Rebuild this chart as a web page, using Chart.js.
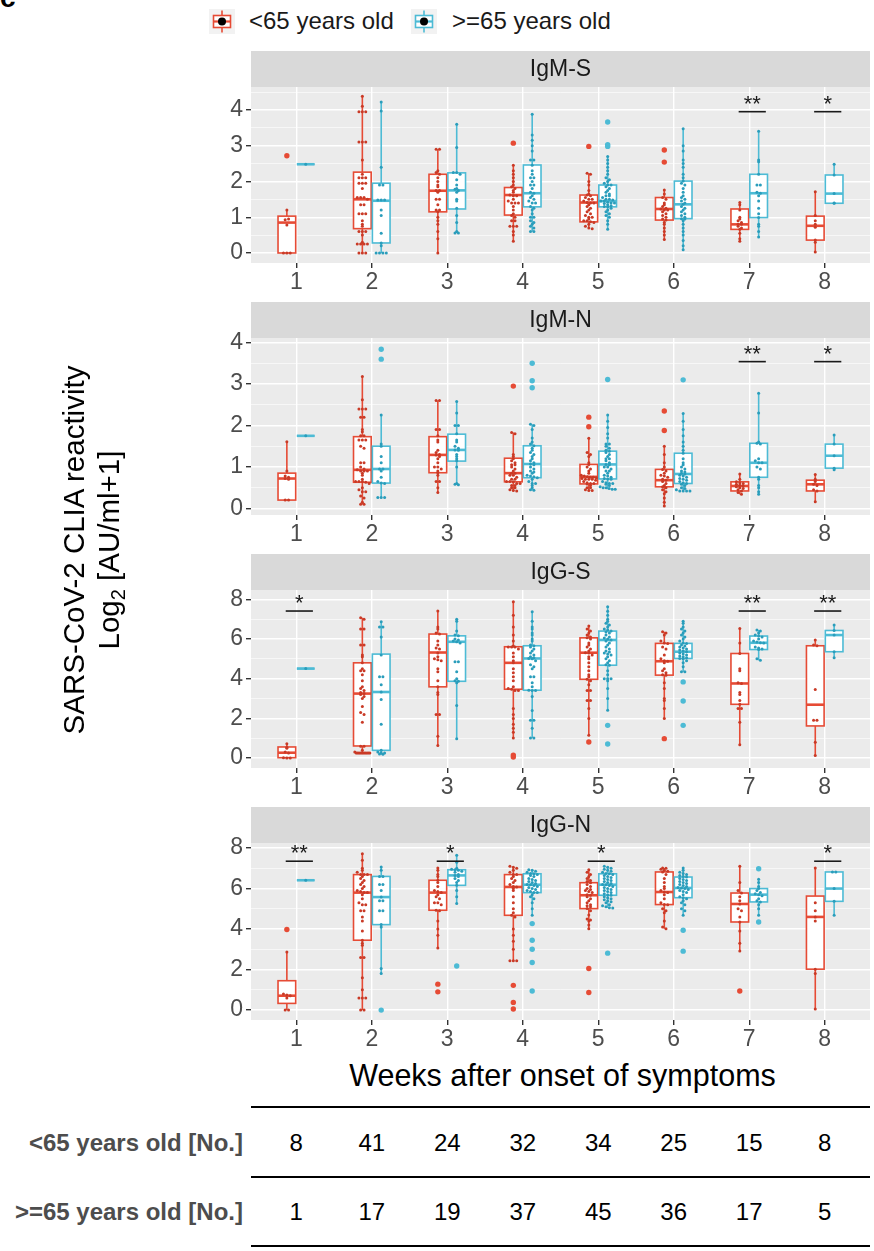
<!DOCTYPE html>
<html><head><meta charset="utf-8">
<script src="https://cdn.jsdelivr.net/npm/chart.js@4.4.0/dist/chart.umd.min.js"></script>
<style>
html,body{margin:0;padding:0;background:#fff;}
#page{position:relative;width:874px;height:1251px;overflow:hidden;font-family:"Liberation Sans",Arial,Helvetica,sans-serif;}
canvas.panel{position:absolute;left:0;}
.abs{position:absolute;white-space:nowrap;}
.hline{position:absolute;height:2px;background:#000;}
</style></head><body><div id="page"></div>
<script>
// ---------------- DATA ----------------
const WEEKS = [1, 2, 3, 4, 5, 6, 7, 8];
const GROUP_LABELS = ['<65 years old', '>=65 years old'];
const TABLE_LABELS = ['<65 years old [No.]', '>=65 years old [No.]'];
const COUNT_YOUNG = [8, 41, 24, 32, 34, 25, 15, 8];
const COUNT_OLD = [1, 17, 19, 37, 45, 36, 17, 5];
const PANEL_TITLES = ['IgM-S', 'IgM-N', 'IgG-S', 'IgG-N'];
const IGM_Y_TICKS = [0, 1, 2, 3, 4];
const IGG_Y_TICKS = [0, 2, 4, 6, 8];
const X_TITLE = 'Weeks after onset of symptoms';

// box stats per week: [lower whisker, q1, median, q3, upper whisker]
// ---- IgM-S ----
const IGMS_YOUNG_BOX = [[0,0,0.85,1.03,1.2],[0,0.68,1.5,2.26,4.38],[0,1.15,1.74,2.2,2.9],[0.33,1.06,1.62,1.83,2.46],[0.68,0.87,1.41,1.62,2.23],[0.38,0.92,1.23,1.55,1.76],[0.33,0.66,0.8,1.23,1.41],[0.03,0.36,0.76,1.03,1.71]];
const IGMS_OLD_BOX = [[2.48,2.48,2.48,2.48,2.48],[0,0.28,1.46,1.95,4.22],[0.56,1.23,1.75,2.24,3.6],[0.6,1.29,1.67,2.46,3.88],[0.66,1.29,1.45,1.9,2.7],[0.09,0.96,1.36,2.01,3.47],[0.45,0.99,1.67,2.2,3.4],[1.39,1.39,1.66,2.18,2.48]];
const IGMS_YOUNG_PTS = [
 [0,0,0,0.78,0.93,0.95,1.2,2.72],
 [4.38,4.1,3.95,3.95,3.95,3.1,3.1,3.1,2.6,2.2,2.1,2.1,2.1,1.95,1.95,1.95,1.8,1.55,1.55,1.55,1.5,1.35,1.35,1.1,1.1,1.1,0.9,0.8,0.75,0.6,0.6,0.6,0.5,0.3,0.25,0.25,0.25,0.25,0,0,0],
 [2.9,2.9,2.3,2.25,2.2,2.1,2.0,1.9,1.85,1.75,1.75,1.7,1.5,1.5,1.35,1.2,1.2,1.15,1.0,0.9,0.8,0.6,0.4,0],
 [3.07,2.45,2.3,2.2,2.1,2.0,1.9,1.85,1.8,1.75,1.7,1.62,1.6,1.6,1.5,1.45,1.4,1.4,1.4,1.3,1.2,1.1,1.05,1.0,0.9,0.9,0.75,0.75,0.75,0.6,0.5,0.33],
 [2.98,2.23,2.2,2.0,1.9,1.75,1.65,1.62,1.6,1.55,1.5,1.5,1.45,1.41,1.4,1.4,1.35,1.3,1.25,1.2,1.15,1.1,1.05,1.0,1.0,0.95,0.9,0.9,0.87,0.85,0.8,0.75,0.7,0.68],
 [2.88,2.54,1.76,1.65,1.55,1.5,1.4,1.35,1.3,1.25,1.23,1.2,1.2,1.15,1.1,1.05,1.0,0.95,0.92,0.85,0.8,0.7,0.6,0.5,0.38],
 [1.41,1.35,1.2,1.0,0.95,0.9,0.85,0.8,0.8,0.75,0.7,0.66,0.55,0.4,0.33],
 [1.71,1.05,0.9,0.8,0.72,0.36,0.3,0.03]];
const IGMS_OLD_PTS = [
 [2.48],
 [4.22,3.97,2.4,1.9,1.9,1.48,1.48,1.48,1.2,1.05,0.55,0.28,0.2,0,0,0,0],
 [3.6,2.95,2.25,2.25,2.2,2.05,1.9,1.8,1.78,1.75,1.7,1.5,1.45,1.25,1.05,0.85,0.6,0.56,0.56],
 [3.88,3.3,3.15,3.0,2.85,2.6,2.6,2.45,2.3,2.2,2.1,2.1,2.0,1.9,1.9,1.8,1.7,1.67,1.6,1.55,1.5,1.45,1.4,1.4,1.3,1.25,1.2,1.1,1.0,1.0,0.9,0.85,0.8,0.75,0.7,0.6,0.6],
 [3.66,3.03,2.98,2.7,2.6,2.5,2.4,2.3,2.2,2.1,2.05,2.0,1.95,1.9,1.9,1.85,1.8,1.75,1.7,1.65,1.6,1.6,1.55,1.5,1.5,1.48,1.45,1.45,1.42,1.4,1.4,1.38,1.35,1.32,1.3,1.29,1.25,1.2,1.15,1.1,1.05,1.0,0.9,0.8,0.66],
 [3.47,3.0,2.85,2.6,2.5,2.4,2.2,2.1,2.01,1.95,1.9,1.8,1.7,1.6,1.55,1.5,1.45,1.4,1.36,1.3,1.25,1.2,1.15,1.1,1.05,1.0,0.96,0.95,0.9,0.8,0.7,0.6,0.5,0.35,0.2,0.09],
 [3.4,2.6,2.55,2.2,1.9,1.9,1.7,1.67,1.6,1.45,1.25,1.1,0.99,0.8,0.75,0.6,0.45],
 [2.48,2.18,1.66,1.4,1.39]];
const IGMS_SIG = [[7, '**'], [8, '*']];
const IGMS_SIG_Y = 3.95;

// ---- IgM-N ----
const IGMN_YOUNG_BOX = [[0.2,0.2,0.72,0.85,1.61],[0.1,0.63,0.93,1.73,3.18],[0.38,0.86,1.29,1.73,2.6],[0.42,0.64,0.85,1.21,1.83],[0.43,0.59,0.76,1.06,1.69],[0.06,0.52,0.68,0.94,1.5],[0.34,0.42,0.54,0.64,0.83],[0.16,0.42,0.58,0.68,0.82]];
const IGMN_OLD_BOX = [[1.75,1.75,1.75,1.75,1.75],[0.26,0.61,0.95,1.5,2.25],[0.57,1.14,1.41,1.79,2.58],[0.44,0.74,1.07,1.51,2.03],[0.46,0.71,1.06,1.38,2.25],[0.42,0.6,0.83,1.33,2.29],[0.34,0.75,1.1,1.57,2.78],[0.93,0.97,1.27,1.55,1.77]];
const IGMN_YOUNG_PTS = [
 [1.61,0.9,0.78,0.75,0.72,0.7,0.2,0.2],
 [3.18,2.62,2.4,2.4,2.4,2.2,2.2,1.9,1.85,1.75,1.75,1.65,1.65,1.65,1.5,1.45,1.1,1.1,1.0,0.95,0.93,0.9,0.9,0.9,0.85,0.8,0.7,0.65,0.65,0.65,0.63,0.6,0.5,0.45,0.4,0.4,0.3,0.25,0.15,0.1,0.1],
 [2.6,2.6,1.9,1.9,1.75,1.65,1.6,1.4,1.35,1.3,1.29,1.25,1.2,1.1,1.0,1.0,0.95,0.9,0.86,0.8,0.65,0.65,0.5,0.38],
 [2.95,1.83,1.8,1.3,1.25,1.2,1.15,1.1,1.05,1.05,1.0,0.95,0.9,0.85,0.85,0.8,0.8,0.75,0.7,0.7,0.65,0.65,0.64,0.6,0.6,0.55,0.55,0.5,0.5,0.45,0.43,0.42],
 [2.2,1.97,1.69,1.35,1.3,1.25,1.1,1.06,1.0,0.95,0.9,0.85,0.8,0.78,0.76,0.75,0.75,0.74,0.72,0.7,0.7,0.7,0.68,0.65,0.62,0.6,0.6,0.59,0.55,0.5,0.5,0.45,0.43,0.43],
 [2.35,1.88,1.5,1.3,1.1,1.0,0.94,0.9,0.85,0.8,0.78,0.75,0.7,0.68,0.65,0.6,0.55,0.52,0.5,0.45,0.4,0.35,0.25,0.15,0.06],
 [0.83,0.7,0.64,0.62,0.6,0.58,0.56,0.54,0.52,0.5,0.48,0.45,0.42,0.38,0.34],
 [0.82,0.7,0.65,0.58,0.55,0.45,0.42,0.16]];
const IGMN_OLD_PTS = [
 [1.75],
 [3.84,3.6,2.25,1.55,1.5,1.25,1.1,0.95,0.95,0.9,0.75,0.65,0.61,0.6,0.26,0.26,0.26],
 [2.58,2.3,2.0,2.0,1.8,1.65,1.6,1.5,1.45,1.41,1.4,1.3,1.25,1.2,1.15,1.0,0.6,0.58,0.57],
 [3.5,3.08,2.91,2.03,2.0,1.9,1.7,1.6,1.55,1.51,1.45,1.4,1.35,1.3,1.25,1.2,1.15,1.1,1.07,1.05,1.0,0.95,0.9,0.88,0.85,0.8,0.78,0.76,0.74,0.7,0.65,0.6,0.6,0.55,0.5,0.45,0.44],
 [3.11,2.25,2.1,1.95,1.8,1.7,1.55,1.55,1.5,1.45,1.4,1.38,1.35,1.3,1.25,1.2,1.2,1.15,1.1,1.06,1.05,1.0,1.0,0.95,0.9,0.9,0.85,0.8,0.78,0.75,0.72,0.71,0.7,0.65,0.62,0.6,0.6,0.58,0.55,0.52,0.5,0.5,0.48,0.46,0.46],
 [3.1,2.29,2.1,1.9,1.75,1.6,1.5,1.4,1.33,1.2,1.1,1.05,1.0,0.95,0.9,0.88,0.85,0.83,0.8,0.78,0.75,0.72,0.7,0.68,0.65,0.62,0.6,0.58,0.55,0.5,0.48,0.45,0.42,0.42,0.42,0.42],
 [2.78,2.3,1.6,1.57,1.55,1.2,1.15,1.1,1.1,1.0,0.95,0.75,0.7,0.55,0.5,0.4,0.34],
 [1.77,1.55,1.27,0.97,0.93]];
const IGMN_SIG = [[7, '**'], [8, '*']];
const IGMN_SIG_Y = 3.54;

// ---- IgG-S ----
const IGGS_YOUNG_BOX = [[0,0.02,0.27,0.56,0.72],[0.25,0.61,3.25,4.8,7.07],[0.64,3.59,5.32,6.25,7.41],[1.01,3.47,4.8,5.61,7.88],[1.15,3.97,5.31,6.06,6.65],[1.99,4.18,4.88,5.78,6.37],[0.67,2.71,3.76,5.27,6.53],[0.13,1.62,2.69,5.66,5.95]];
const IGGS_OLD_BOX = [[4.51,4.51,4.51,4.51,4.51],[0.19,0.39,3.33,5.24,6.87],[0.98,3.87,5.86,6.16,6.99],[1.01,3.42,5.02,5.66,7.38],[2.41,4.68,5.95,6.4,7.63],[4.35,5.02,5.36,5.78,6.9],[4.93,5.47,5.81,6.15,6.45],[5.05,5.36,6.2,6.43,6.7]];
const IGGS_YOUNG_PTS = [
 [0.72,0.55,0.5,0.3,0.25,0.02,0,0],
 [7.07,7.0,6.5,6.5,5.7,5.7,5.2,5.1,4.8,4.5,4.4,4.4,4.2,3.9,3.6,3.5,3.4,3.3,3.25,3.2,3.1,3.0,2.6,2.3,2.2,1.8,0.6,0.6,0.4,0.3,0.25,0.25,0.25,0.25,0.25,0.25,0.25,0.25,0.25,0.25,0.25],
 [7.41,6.6,6.5,6.3,6.25,5.9,5.7,5.55,5.5,5.3,5.1,5.0,4.95,4.9,4.5,4.35,3.9,3.6,3.3,3.2,2.2,2.2,1.1,0.64],
 [7.88,7.2,6.6,6.2,5.9,5.65,5.6,5.6,5.6,5.5,5.3,5.1,4.9,4.8,4.5,4.3,4.1,3.9,3.6,3.5,3.47,3.4,3.4,2.5,2.2,2.0,1.7,1.5,1.3,1.01,0.15,0.05],
 [6.65,6.5,6.4,6.3,6.2,6.1,6.06,6.0,5.8,5.7,5.6,5.5,5.4,5.31,5.3,5.2,5.1,5.0,4.8,4.6,4.4,4.2,4.1,3.97,3.9,3.7,3.4,3.4,2.9,2.9,2.5,2.0,1.15,0.81],
 [6.37,6.3,6.2,5.9,5.8,5.78,5.6,5.5,5.2,5.0,4.9,4.88,4.8,4.5,4.4,4.3,4.2,4.18,3.8,3.5,3.0,2.9,2.5,1.99,0.98],
 [6.53,5.8,5.27,4.5,4.4,3.8,3.76,3.3,3.2,2.9,2.71,2.5,2.5,1.8,0.67],
 [5.95,5.7,5.66,3.45,1.9,1.9,0.8,0.13]];
const IGGS_OLD_PTS = [
 [4.51],
 [6.87,6.6,6.6,6.1,5.2,4.1,4.1,3.7,3.33,2.95,1.7,0.4,0.3,0.25,0.25,0.2,0.19],
 [6.99,6.9,6.4,6.2,6.16,6.0,5.95,5.9,5.86,5.8,4.85,4.85,4.35,4.0,3.9,3.87,3.8,2.65,0.98],
 [7.38,6.9,6.6,6.5,6.3,6.2,6.0,5.9,5.7,5.66,5.6,5.5,5.4,5.3,5.2,5.1,5.05,5.02,5.0,4.9,4.7,4.6,4.5,4.1,4.1,3.8,3.6,3.42,3.4,3.4,3.1,2.4,1.9,1.9,1.5,1.01,1.01],
 [7.63,7.4,7.2,7.0,6.9,6.8,6.7,6.6,6.5,6.45,6.4,6.35,6.3,6.2,6.1,6.05,6.0,5.95,5.9,5.8,5.7,5.6,5.5,5.4,5.35,5.3,5.25,5.2,5.1,5.0,4.9,4.8,4.7,4.68,4.4,4.2,4.0,4.0,4.0,3.9,3.5,3.0,2.41,1.65,0.71],
 [6.9,6.8,6.6,6.5,6.4,6.3,6.2,6.1,6.0,5.9,5.8,5.78,5.7,5.65,5.6,5.55,5.5,5.45,5.4,5.36,5.3,5.25,5.2,5.15,5.1,5.05,5.02,5.0,4.9,4.8,4.6,4.35,4.35,3.84,2.88,1.65],
 [6.45,6.4,6.3,6.2,6.15,6.1,6.0,5.9,5.85,5.81,5.8,5.6,5.55,5.5,5.47,5.0,4.93],
 [6.7,6.43,6.2,5.36,5.05]];
const IGGS_SIG = [[1, '*'], [7, '**'], [8, '**']];
const IGGS_SIG_Y = 7.41;

// ---- IgG-N ----
const IGGN_YOUNG_BOX = [[0,0.33,0.71,1.45,2.87],[0,3.45,5.8,6.69,7.72],[3.07,4.93,5.8,6.41,7.01],[2.43,4.68,6.08,6.69,7.1],[4.02,5.01,5.67,6.29,6.93],[4.02,5.21,5.83,6.82,7.01],[2.92,4.35,5.24,5.78,7.1],[0.05,2.02,4.6,5.63,7.01]];
const IGGN_OLD_BOX = [[6.41,6.41,6.41,6.41,6.41],[1.81,4.22,5.58,6.6,7.06],[5.26,6.16,6.65,6.93,7.64],[4.68,5.8,6.19,6.73,6.93],[5.04,5.67,6.19,6.73,7.1],[4.68,5.55,6.03,6.57,7.01],[4.68,5.34,5.7,6.0,6.46],[4.68,5.37,6.0,6.82,6.82]];
const IGGN_YOUNG_PTS = [
 [3.98,2.87,0.8,0.75,0.71,0.6,0,0],
 [7.72,7.4,7.0,6.9,6.8,6.7,6.7,6.69,6.6,6.5,6.4,6.3,6.2,6.1,6.0,5.9,5.85,5.8,5.8,5.7,5.5,5.3,5.2,5.2,4.9,4.9,4.6,4.4,3.9,3.45,3.3,3.2,2.6,2.6,1.6,1.0,0.6,0.6,0.6,0,0],
 [7.01,6.9,6.7,6.6,6.41,6.3,6.1,5.9,5.85,5.8,5.7,5.6,5.5,5.3,5.3,5.2,4.93,4.9,4.4,4.0,3.7,3.07,1.28,0.9],
 [7.1,7.05,7.0,6.9,6.8,6.7,6.69,6.6,6.5,6.4,6.3,6.2,6.1,6.08,6.0,5.9,5.6,5.3,5.0,4.8,4.68,4.6,4.0,3.7,3.4,3.0,2.43,2.43,2.43,1.22,0.38,0.05],
 [6.93,6.8,6.7,6.6,6.5,6.4,6.35,6.29,6.2,6.1,6.0,5.95,5.9,5.85,5.8,5.7,5.67,5.6,5.5,5.4,5.3,5.2,5.15,5.1,5.01,4.9,4.7,4.5,4.45,4.4,4.2,4.02,2.05,0.87],
 [7.01,7.0,6.95,6.9,6.85,6.82,6.7,6.5,6.3,6.1,6.0,5.9,5.83,5.8,5.7,5.5,5.3,5.21,5.2,5.0,4.9,4.8,4.4,4.1,4.02],
 [7.1,6.3,5.9,5.78,5.6,5.4,5.24,5.0,4.9,4.6,4.35,3.9,3.3,2.92,0.94],
 [7.01,5.3,4.9,4.6,4.4,2.02,1.8,0.05]];
const IGGN_OLD_PTS = [
 [6.41],
 [7.06,6.9,6.6,6.6,6.2,6.2,5.9,5.58,5.4,5.4,4.9,4.9,4.22,4.1,2.05,1.81,0],
 [7.64,7.3,7.0,6.95,6.93,6.9,6.85,6.8,6.7,6.65,6.6,6.5,6.4,6.3,6.16,5.9,5.6,5.26,2.18],
 [6.93,6.9,6.85,6.8,6.75,6.73,6.7,6.65,6.6,6.5,6.45,6.4,6.35,6.3,6.25,6.2,6.19,6.15,6.1,6.05,6.0,5.95,5.9,5.85,5.8,5.8,5.7,5.6,5.5,5.3,5.0,4.68,4.27,3.45,3.0,2.35,0.94],
 [7.1,7.05,7.0,6.95,6.9,6.85,6.8,6.75,6.73,6.7,6.65,6.6,6.55,6.5,6.45,6.4,6.35,6.3,6.25,6.2,6.19,6.15,6.1,6.05,6.0,5.95,5.9,5.85,5.8,5.75,5.7,5.67,5.6,5.55,5.5,5.45,5.4,5.35,5.3,5.2,5.15,5.1,5.05,5.04,2.81],
 [7.01,6.9,6.8,6.75,6.7,6.65,6.6,6.57,6.5,6.45,6.4,6.35,6.3,6.25,6.2,6.15,6.1,6.05,6.03,6.0,5.95,5.9,5.85,5.8,5.7,5.6,5.55,5.5,5.4,5.3,5.2,5.0,4.9,4.68,3.94,2.91],
 [6.98,6.46,6.3,6.1,6.0,5.9,5.8,5.75,5.7,5.65,5.5,5.4,5.34,5.2,5.0,4.68,4.35],
 [6.82,6.82,6.0,5.37,4.68]];
const IGGN_SIG = [[1, '**'], [3, '*'], [5, '*'], [8, '*']];
const IGGN_SIG_Y = 7.35;

// ---------------- STYLE / LAYOUT ----------------
const FONT = '"Liberation Sans", Arial, Helvetica, sans-serif';
const RED = '#E64B35', BLUE = '#4DBBD5';
const RED_DOT = '#C93A26', BLUE_DOT = '#2A9DBB';
const PLOT_LEFT = 251, STRIP_H = 36, XAXIS_H = 32, CANVAS_W = 874;
const BOX_HALF = 0.117, GROUP_OFF = 0.125;

const PANELS = [
  {title: PANEL_TITLES[0], majors: IGM_Y_TICKS, young: IGMS_YOUNG_PTS, youngBox: IGMS_YOUNG_BOX, old: IGMS_OLD_PTS, oldBox: IGMS_OLD_BOX, sig: IGMS_SIG, sigY: IGMS_SIG_Y,
   top: 51, plotH: 176, ymin: -0.28, ymax: 4.64, minor: 0.5, binw: 0.08},
  {title: PANEL_TITLES[1], majors: IGM_Y_TICKS, young: IGMN_YOUNG_PTS, youngBox: IGMN_YOUNG_BOX, old: IGMN_OLD_PTS, oldBox: IGMN_OLD_BOX, sig: IGMN_SIG, sigY: IGMN_SIG_Y,
   top: 302, plotH: 177, ymin: -0.16, ymax: 4.11, minor: 0.5, binw: 0.07},
  {title: PANEL_TITLES[2], majors: IGG_Y_TICKS, young: IGGS_YOUNG_PTS, youngBox: IGGS_YOUNG_BOX, old: IGGS_OLD_PTS, oldBox: IGGS_OLD_BOX, sig: IGGS_SIG, sigY: IGGS_SIG_Y,
   top: 554, plotH: 178, ymin: -0.5, ymax: 8.47, minor: 1, binw: 0.15},
  {title: PANEL_TITLES[3], majors: IGG_Y_TICKS, young: IGGN_YOUNG_PTS, youngBox: IGGN_YOUNG_BOX, old: IGGN_OLD_PTS, oldBox: IGGN_OLD_BOX, sig: IGGN_SIG, sigY: IGGN_SIG_Y,
   top: 807, plotH: 177, ymin: -0.49, ymax: 8.25, minor: 1, binw: 0.15}
];

Chart.defaults.font.family = FONT;
const page = document.getElementById('page');

function addText(txt, css) {
  const d = document.createElement('div');
  d.className = 'abs';
  d.textContent = txt;
  Object.assign(d.style, css);
  page.appendChild(d);
  return d;
}

// dot-plot layout: values in the same bin are spread horizontally
function layoutDots(ptsByWeek, boxes, offset, binw) {
  const dots = [], outs = [];
  ptsByWeek.forEach((vals, i) => {
    const cx = WEEKS[i] + offset, b = boxes[i];
    const bins = new Map();
    vals.forEach(v => {
      if (v < b[0] - 1e-9 || v > b[4] + 1e-9) { outs.push({x: cx, y: v}); return; }
      const k = Math.round(v / binw);
      if (!bins.has(k)) bins.set(k, []);
      bins.get(k).push(v);
    });
    bins.forEach(arr => {
      const n = arr.length;
      const step = n > 1 ? Math.min(0.045, 0.2 / (n - 1)) : 0;
      arr.forEach((v, j) => dots.push({x: cx + (j - (n - 1) / 2) * step, y: v}));
    });
  });
  return {dots, outs};
}

function drawBox(ctx, xs, ys, cx, b, color) {
  const x0 = xs.getPixelForValue(cx - BOX_HALF), x1 = xs.getPixelForValue(cx + BOX_HALF), xm = xs.getPixelForValue(cx);
  const [lo, q1, md, q3, hi] = b.map(v => ys.getPixelForValue(v));
  ctx.save();
  ctx.strokeStyle = color;
  ctx.lineWidth = 1.6;
  ctx.beginPath();
  ctx.moveTo(xm, q3); ctx.lineTo(xm, hi);
  ctx.moveTo(xm, q1); ctx.lineTo(xm, lo);
  ctx.stroke();
  ctx.fillStyle = '#FFFFFF';
  ctx.fillRect(x0, q3, x1 - x0, q1 - q3);
  ctx.strokeRect(x0, q3, x1 - x0, q1 - q3);
  ctx.lineWidth = 2.6;
  ctx.beginPath(); ctx.moveTo(x0, md); ctx.lineTo(x1, md); ctx.stroke();
  ctx.restore();
}

const charts = [];
PANELS.forEach(p => {
  const cv = document.createElement('canvas');
  cv.className = 'panel';
  const H = STRIP_H + p.plotH + XAXIS_H;
  cv.width = CANVAS_W; cv.height = H;
  cv.style.width = CANVAS_W + 'px'; cv.style.height = H + 'px';
  cv.style.top = p.top + 'px';
  page.appendChild(cv);

  const isMajor = v => p.majors.some(t => Math.abs(t - v) < 1e-6);
  const yTicks = [];
  for (let v = Math.ceil(p.ymin / p.minor) * p.minor; v <= p.ymax + 1e-9; v += p.minor) yTicks.push(Math.round(v * 100) / 100);

  const young = layoutDots(p.young, p.youngBox, -GROUP_OFF, p.binw);
  const old = layoutDots(p.old, p.oldBox, GROUP_OFF, p.binw);

  const panelPlugin = {
    id: 'panel' + p.title,
    beforeDraw(chart) {
      const {ctx, chartArea: a} = chart;
      ctx.save();
      ctx.fillStyle = '#EBEBEB';
      ctx.fillRect(a.left, a.top, a.right - a.left, a.bottom - a.top);
      ctx.fillStyle = '#D9D9D9';
      ctx.fillRect(a.left, a.top - STRIP_H, a.right - a.left, STRIP_H);
      ctx.fillStyle = '#1A1A1A';
      ctx.font = '23px ' + FONT;
      ctx.textAlign = 'center';
      ctx.textBaseline = 'middle';
      ctx.fillText(p.title, (a.left + a.right) / 2, a.top - STRIP_H / 2 + 1);
      ctx.restore();
    },
    beforeDatasetsDraw(chart) {
      const xs = chart.scales.x, ys = chart.scales.y, ctx = chart.ctx;
      ctx.save();
      ctx.beginPath();
      const a = chart.chartArea;
      ctx.rect(a.left, a.top, a.right - a.left, a.bottom - a.top);
      ctx.clip();
      WEEKS.forEach((w, i) => {
        drawBox(ctx, xs, ys, w - GROUP_OFF, p.youngBox[i], RED);
        drawBox(ctx, xs, ys, w + GROUP_OFF, p.oldBox[i], BLUE);
      });
      ctx.restore();
    },
    afterDatasetsDraw(chart) {
      const xs = chart.scales.x, ys = chart.scales.y, ctx = chart.ctx;
      ctx.save();
      ctx.strokeStyle = '#1A1A1A';
      ctx.fillStyle = '#1A1A1A';
      ctx.lineWidth = 1.6;
      ctx.font = '22px ' + FONT;
      ctx.textAlign = 'center';
      ctx.textBaseline = 'alphabetic';
      const yy = ys.getPixelForValue(p.sigY);
      p.sig.forEach(([w, s]) => {
        const xa = xs.getPixelForValue(w - 0.14), xb = xs.getPixelForValue(w + 0.22);
        ctx.beginPath(); ctx.moveTo(xa, yy); ctx.lineTo(xb, yy); ctx.stroke();
        ctx.fillText(s, (xa + xb) / 2, yy - 1);
      });
      ctx.restore();
    }
  };

  const ch = new Chart(cv, {
    type: 'scatter',
    data: {datasets: [
      {label: GROUP_LABELS[0], data: young.dots, backgroundColor: RED_DOT, borderWidth: 0, pointRadius: 1.5},
      {label: GROUP_LABELS[1], data: old.dots, backgroundColor: BLUE_DOT, borderWidth: 0, pointRadius: 1.5},
      {label: GROUP_LABELS[0] + ' outliers', data: young.outs, backgroundColor: RED, borderWidth: 0, pointRadius: 2.7},
      {label: GROUP_LABELS[1] + ' outliers', data: old.outs, backgroundColor: BLUE, borderWidth: 0, pointRadius: 2.7}
    ]},
    options: {
      responsive: false, animation: false, events: [],
      layout: {padding: {top: STRIP_H, left: 0, right: 0, bottom: 0}},
      plugins: {legend: {display: false}, tooltip: {enabled: false}},
      scales: {
        x: {
          type: 'linear', min: 0.4, max: 8.6,
          afterBuildTicks: s => { s.ticks = WEEKS.map(v => ({value: v})); },
          afterFit: s => { s.height = XAXIS_H; },
          ticks: {autoSkip: false, maxRotation: 0, padding: 1, color: '#4D4D4D', font: {size: 23}, callback: v => String(v)},
          grid: {color: '#FFFFFF', lineWidth: 1.4, tickColor: '#333333', tickLength: 5, drawTicks: true},
          border: {display: false}
        },
        y: {
          type: 'linear', min: p.ymin, max: p.ymax,
          afterBuildTicks: s => { s.ticks = yTicks.map(v => ({value: v})); },
          afterFit: s => { s.width = PLOT_LEFT; },
          ticks: {autoSkip: false, padding: 3, color: '#4D4D4D', font: {size: 23}, callback: v => isMajor(v) ? String(Math.round(v)) : ''},
          grid: {color: '#FFFFFF', lineWidth: c => (c.tick && isMajor(c.tick.value)) ? 1.4 : 0.6,
                 tickColor: c => (c.tick && isMajor(c.tick.value)) ? '#333333' : 'rgba(0,0,0,0)', tickLength: 5, drawTicks: true},
          border: {display: false}
        }
      }
    },
    plugins: [panelPlugin]
  });
  charts.push(ch);
});

// ---------- legend ----------
function legendKey(left, color) {
  const c = document.createElement('canvas');
  c.width = 26; c.height = 25;
  c.style.cssText = 'position:absolute;left:' + left + 'px;top:9px;width:26px;height:25px;';
  page.appendChild(c);
  const g = c.getContext('2d');
  g.fillStyle = '#F2F2F2'; g.fillRect(0, 0, 26, 25);
  g.strokeStyle = color; g.lineWidth = 1.6;
  g.beginPath(); g.moveTo(13, 1.5); g.lineTo(13, 23.5); g.stroke();
  g.fillStyle = '#FFFFFF'; g.fillRect(4.5, 6.5, 17, 12); g.strokeRect(4.5, 6.5, 17, 12);
  g.beginPath(); g.moveTo(4.5, 12.5); g.lineTo(21.5, 12.5); g.lineWidth = 2.2; g.stroke();
  g.fillStyle = '#000000'; g.beginPath(); g.arc(13, 12.5, 4, 0, Math.PI * 2); g.fill();
}
legendKey(209, RED);
legendKey(411, BLUE);
addText(GROUP_LABELS[0], {left: '249px', top: '6px', fontSize: '24px', lineHeight: '30px', color: '#1A1A1A'});
addText(GROUP_LABELS[1], {left: '452px', top: '6px', fontSize: '24px', lineHeight: '30px', color: '#1A1A1A'});

// panel tag
addText('c', {left: '0px', top: '-16px', fontSize: '28px', lineHeight: '28px', fontWeight: 'bold', color: '#000'});

// axis titles
addText(X_TITLE, {left: PLOT_LEFT + 'px', width: (874 - PLOT_LEFT) + 'px', textAlign: 'center', top: '1058px', fontSize: '30.5px', lineHeight: '34px', color: '#000'});
const yt = document.createElement('div');
yt.className = 'abs';
yt.style.cssText = 'left:' + (91 - 250) + 'px;top:' + (550 - 35) + 'px;width:500px;height:70px;text-align:center;font-size:29.5px;line-height:35px;color:#000;transform:rotate(-90deg);transform-origin:250px 35px;';
yt.innerHTML = 'SARS-CoV-2 CLIA reactivity<br>Log<sub style="font-size:20px;vertical-align:-6px;line-height:0">2</sub> [AU/ml+1]';
page.appendChild(yt);

// ---------- count table ----------
const xsc = charts[0].scales.x;
[1107, 1177, 1246].forEach(y => {
  const l = document.createElement('div');
  l.className = 'hline';
  l.style.left = PLOT_LEFT + 'px'; l.style.width = (870 - PLOT_LEFT) + 'px'; l.style.top = (y - 1) + 'px';
  page.appendChild(l);
});
[[COUNT_YOUNG, 1143], [COUNT_OLD, 1212]].forEach(([arr, yc], r) => {
  addText(TABLE_LABELS[r], {right: (874 - 243) + 'px', top: (yc - 15) + 'px', fontSize: '24px', lineHeight: '30px', fontWeight: 'bold', color: '#4D4D4D'});
  arr.forEach((n, i) => {
    const px = xsc.getPixelForValue(WEEKS[i]);
    addText(String(n), {left: (px - 40) + 'px', width: '80px', textAlign: 'center', top: (yc - 15) + 'px', fontSize: '24px', lineHeight: '30px', color: '#000'});
  });
});
</script></body></html>
